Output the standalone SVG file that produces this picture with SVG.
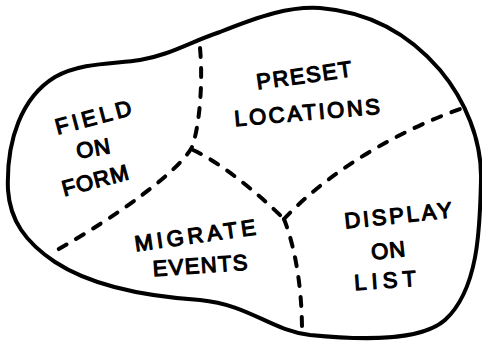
<svg xmlns="http://www.w3.org/2000/svg" width="482" height="342" viewBox="0 0 482 342">
<style>
.blob{fill:#fff;stroke:#000;stroke-width:4;stroke-linejoin:round}
.dash{fill:none;stroke:#000;stroke-width:4;stroke-linecap:round;stroke-dasharray:9 11}
.lbl{font-family:"Liberation Sans",Arial,sans-serif;font-size:22px;font-weight:normal;fill:#000;text-anchor:middle;stroke:#000;stroke-width:1.2;stroke-linejoin:round}
</style>
<rect width="482" height="342" fill="#fff"/>
<g id="outline">
<path class="blob" d="M 8,190 C 6,140 22,97 55,77 C 82,62 115,64 140,60 C 170,55 190,42 220,32 C 260,16 290,6 320,8 C 370,12 410,35 440,70 C 465,100 482,140 481,180 C 480,230 478,290 445,320 C 420,342 360,340 310,335 C 270,330 250,305 200,300 C 140,296 90,285 55,262 C 25,242 10,220 8,190 Z"/>
</g>
<g id="connectors">
<path class="dash" d="M 200,48 C 203,80 200,125 192,147 C 180,170 120,215 50,254"/>
<path class="dash" d="M 193,150 C 220,162 260,195 284,219"/>
<path class="dash" d="M 284,219 C 296,250 302,290 302,331"/>
<path class="dash" d="M 284,219 C 330,170 400,130 463,108"/>
</g>
<g id="preset-locations">
<text class="lbl" x="304" y="83" textLength="96" lengthAdjust="spacing" transform="rotate(-8 304 75)">PRESET</text>
<text class="lbl" x="307" y="120" textLength="146" lengthAdjust="spacing" transform="rotate(-5 307 112)">LOCATIONS</text>
</g>
<g id="field-on-form">
<text class="lbl" x="93" y="125" textLength="78" lengthAdjust="spacing" transform="rotate(-15 93 117)">FIELD</text>
<text class="lbl" x="93" y="156" textLength="34" lengthAdjust="spacing" transform="rotate(-10 93 148)">ON</text>
<text class="lbl" x="95" y="188" textLength="68" lengthAdjust="spacing" transform="rotate(-15 95 180)">FORM</text>
</g>
<g id="migrate-events">
<text class="lbl" x="195" y="243" textLength="122" lengthAdjust="spacing" transform="rotate(-8 195 235)">MIGRATE</text>
<text class="lbl" x="200" y="273" textLength="95" lengthAdjust="spacing" transform="rotate(-4 200 265)">EVENTS</text>
</g>
<g id="display-on-list">
<text class="lbl" x="398" y="223" textLength="108" lengthAdjust="spacing" transform="rotate(-6 398 215)">DISPLAY</text>
<text class="lbl" x="388" y="258" textLength="34" lengthAdjust="spacing" transform="rotate(-6 388 250)">ON</text>
<text class="lbl" x="385" y="288" textLength="62" lengthAdjust="spacing" transform="rotate(-4 385 280)">LIST</text>
</g>
</svg>
